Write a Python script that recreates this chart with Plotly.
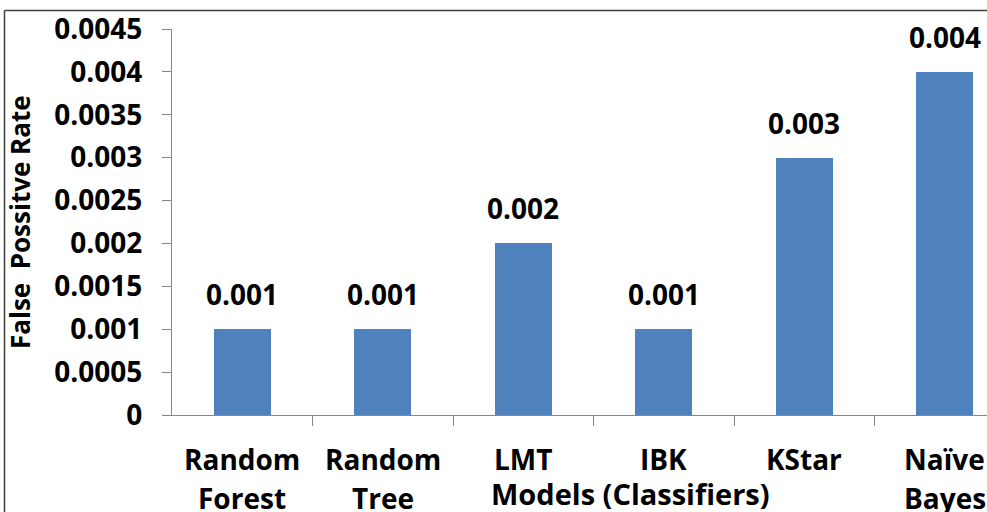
import plotly.graph_objects as go

# Classifier false-positive rates
models = ["Random\nForest", "Random\nTree", "LMT", "IBK", "KStar", "Naïve\nBayes"]
fp_rate = [0.001, 0.001, 0.002, 0.001, 0.003, 0.004]
value_labels = ["0.001", "0.001", "0.002", "0.001", "0.003", "0.004"]
y_ticks = [0, 0.0005, 0.001, 0.0015, 0.002, 0.0025, 0.003, 0.0035, 0.004, 0.0045]
y_tick_text = ["0", "0.0005", "0.001", "0.0015", "0.002", "0.0025", "0.003", "0.0035", "0.004", "0.0045"]

FONT = "Open Sans"
BAR = "#4F81BD"
AXIS = "#868686"

W, H = 987, 512
L, R, T, B = 172, 0, 29, 97
pw, ph = W - L - R, H - T - B


def px_x(px):
    return (px - L) / pw


def px_y(py):
    return (H - B - py) / ph


xs = list(range(len(models)))

fig = go.Figure(
    go.Bar(x=xs, y=fp_rate, width=0.405, marker=dict(color=BAR, line=dict(width=0)))
)

annotations = []
# value labels above each bar
for x, v, t in zip(xs, fp_rate, value_labels):
    annotations.append(dict(
        x=x, y=v, xref="x", yref="y", text=t, showarrow=False,
        yanchor="bottom", yshift=14,
        font=dict(family=FONT, size=28, color="#000000", weight="bold"),
    ))
# category names (one or two lines each)
for x, name in zip(xs, models):
    for k, line in enumerate(name.split("\n")):
        annotations.append(dict(
            x=x, y=px_y(459 + 39 * k), xref="x", yref="paper", text=line,
            showarrow=False, yanchor="middle",
            font=dict(family=FONT, size=28, color="#000000", weight="bold"),
        ))
# axis titles
annotations.append(dict(
    x=px_x(630), y=px_y(493), xref="paper", yref="paper",
    text="Models (Classifiers)", showarrow=False, yanchor="middle",
    font=dict(family=FONT, size=29, color="#000000", weight="bold"),
))
annotations.append(dict(
    x=px_x(20), y=px_y(222), xref="paper", yref="paper",
    text="False  Possitve Rate", showarrow=False, textangle=-90,
    xanchor="center", yanchor="middle",
    font=dict(family=FONT, size=26, color="#000000", weight="bold"),
))

# outer frame of the chart area
frame = dict(color="#3c3c3c", width=1.5)
shapes = [
    dict(type="line", xref="paper", yref="paper",
         x0=px_x(4.5), x1=px_x(4.5), y0=px_y(10.5), y1=px_y(513), line=frame),
    dict(type="line", xref="paper", yref="paper",
         x0=px_x(4.5), x1=px_x(990), y0=px_y(10.5), y1=px_y(10.5), line=frame),
]

fig.update_layout(
    width=W, height=H,
    margin=dict(l=L, r=R, t=T, b=B, pad=0),
    paper_bgcolor="white", plot_bgcolor="white",
    showlegend=False,
    annotations=annotations,
    shapes=shapes,
    bargap=0,
)
fig.update_xaxes(
    range=[-0.5, 5.3], tickmode="array", tickvals=[i + 0.5 for i in xs[:-1]],
    ticktext=["" for _ in xs[:-1]],
    ticks="outside", ticklen=10, tickcolor=AXIS, tickwidth=1.3,
    showline=True, linecolor=AXIS, linewidth=1.3,
    showgrid=False, zeroline=False, showticklabels=False,
)
fig.update_yaxes(
    range=[0, 0.0045], tickmode="array", tickvals=y_ticks, ticktext=y_tick_text,
    ticks="outside", ticklen=9, tickcolor=AXIS, tickwidth=1.3,
    showline=True, linecolor=AXIS, linewidth=1.3,
    showgrid=False, zeroline=False,
    tickfont=dict(family=FONT, size=28, color="#000000", weight="bold"),
    ticklabelstandoff=14,
)

fig.write_html("out.html")
